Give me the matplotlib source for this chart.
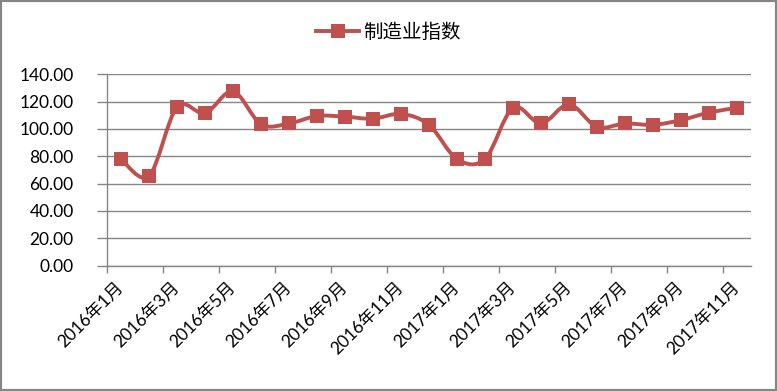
import numpy as np
import matplotlib
matplotlib.use("Agg")
import matplotlib.pyplot as plt
from matplotlib.path import Path
from matplotlib.patches import PathPatch, Rectangle
from matplotlib.lines import Line2D

plt.rcParams['font.family'] = ['Lato', 'Noto Sans CJK SC', 'DejaVu Sans']

months = ["2016年1月", "2016年2月", "2016年3月", "2016年4月", "2016年5月", "2016年6月",
          "2016年7月", "2016年8月", "2016年9月", "2016年10月", "2016年11月", "2016年12月",
          "2017年1月", "2017年2月", "2017年3月", "2017年4月", "2017年5月", "2017年6月",
          "2017年7月", "2017年8月", "2017年9月", "2017年10月", "2017年11月"]
values = [78, 65.6, 116, 111.5, 127.5, 103.5, 104, 109.5, 109, 107.5, 111, 103,
          78, 78, 115.5, 104, 118, 101.5, 104, 103, 106.5, 112, 115.5]
series_name = "制造业指数"

red = "#C0504D"
grey = "#868686"

fig = plt.figure(figsize=(7.77, 3.91), dpi=100)
ax = fig.add_axes([107 / 777, 1 - 265.6 / 391, 644 / 777, 191.3 / 391])

x = np.arange(len(values))
y = np.array(values, dtype=float)

# smoothed line (Catmull-Rom as cubic Bezier), like Excel's smoothed line
pts = np.column_stack([x, y])
verts = [pts[0]]
codes = [Path.MOVETO]
n = len(pts)
for i in range(n - 1):
    p0 = pts[i - 1] if i > 0 else pts[i]
    p1 = pts[i]
    p2 = pts[i + 1]
    p3 = pts[i + 2] if i + 2 < n else pts[i + 1]
    c1 = p1 + (p2 - p0) / 6
    c2 = p2 - (p3 - p1) / 6
    verts += [c1, c2, p2]
    codes += [Path.CURVE4] * 3
curve = PathPatch(Path(verts, codes), facecolor='none', edgecolor=red,
                  linewidth=2.8, capstyle='round', joinstyle='round', zorder=3)
ax.add_patch(curve)
ax.plot(x, y, 's', color=red, markersize=9.5, markeredgewidth=0, zorder=4)

ax.set_xlim(-0.5, len(values) - 0.5)
ax.set_ylim(0, 140)
ax.set_yticks(np.arange(0, 141, 20))
ax.set_yticklabels([f"{v:.2f}" for v in np.arange(0, 141, 20)], fontsize=12.5)
ax.yaxis.grid(True, color=grey, linewidth=1)
ax.set_axisbelow(True)

ax.set_xticks(np.arange(-0.5, len(values), 2))
ax.set_xticks(x[::2], minor=True)
ax.set_xticklabels([])
ax.set_xticklabels(months[::2], minor=True, rotation=45, ha='right', va='center',
                   rotation_mode='anchor', fontsize=12.5)
ax.tick_params(axis='x', which='minor', length=0, pad=14)
ax.tick_params(axis='x', which='major', length=5, color=grey, width=1, direction='out')
ax.tick_params(axis='y', length=7, color=grey, width=1, pad=17)

for s in ['top', 'right']:
    ax.spines[s].set_visible(False)
for s in ['left', 'bottom']:
    ax.spines[s].set_color(grey)
    ax.spines[s].set_linewidth(1)

handle = Line2D([], [], color=red, linewidth=2.8, marker='s', markersize=9.5,
                markeredgewidth=0)
fig.legend([handle], [series_name], loc='center', bbox_to_anchor=(0.5, 1 - 32 / 391),
           frameon=False, fontsize=14, handlelength=2.2, handletextpad=0.2)

fig.patches.append(Rectangle((0, 0), 1, 1, transform=fig.transFigure, fill=False,
                             edgecolor=grey, linewidth=3))

fig.savefig("out.png", dpi=100)
